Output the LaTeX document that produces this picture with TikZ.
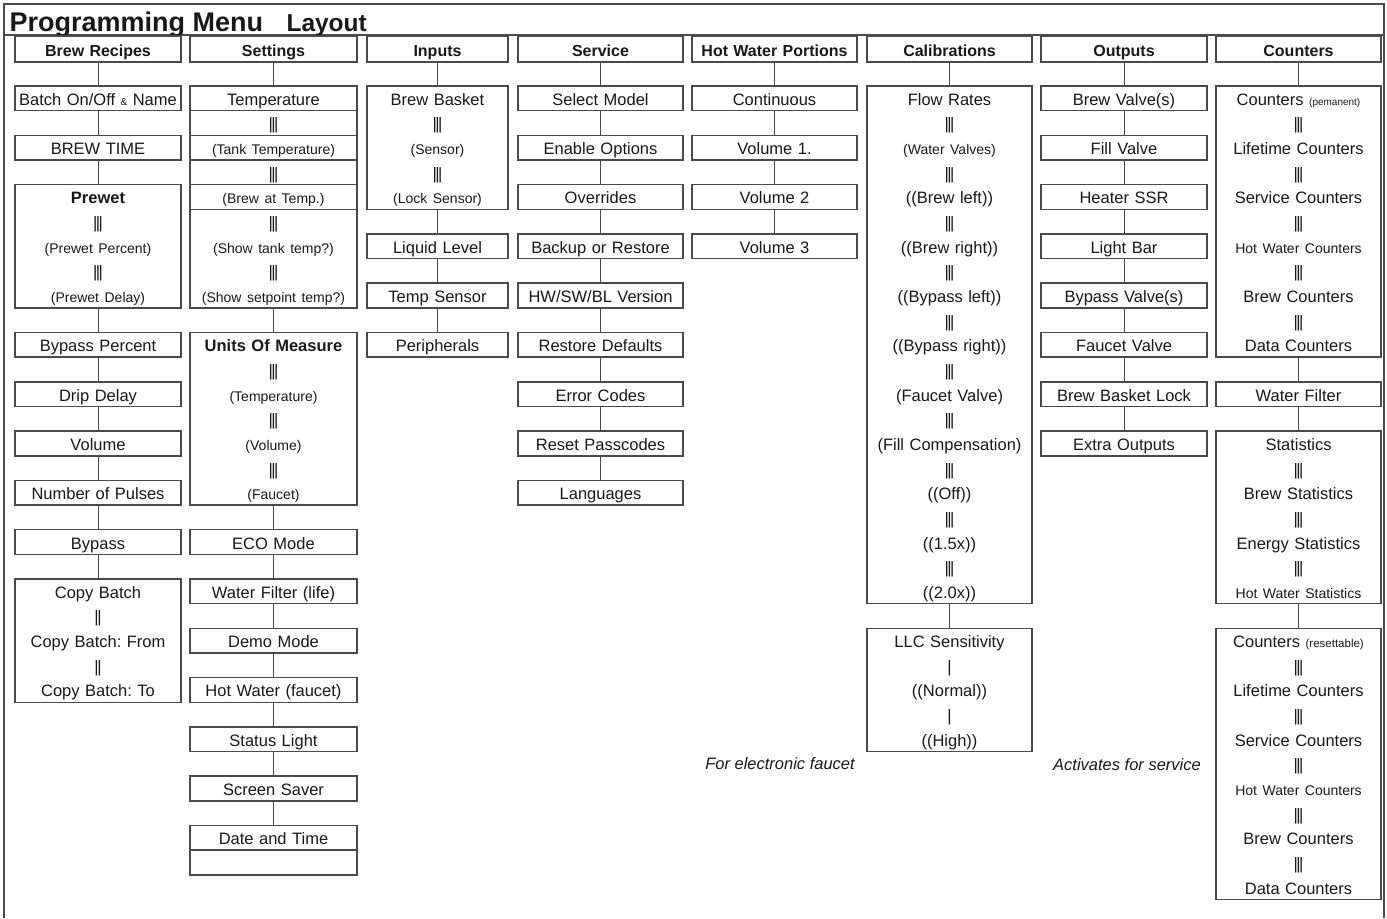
\documentclass[tikz,border=0pt]{standalone}
\usepackage{fontspec}
\setmainfont{Liberation Sans}
\frenchspacing
\newcommand\vbars{|\kern-1.5pt|\kern-1.5pt|}
\newcommand\vvbars{|\kern-1.5pt|}
\newcommand\smalltxt[1]{{\fontsize{14}{24.65}\selectfont #1}}
\newcommand\tinytxt[2]{{\fontsize{#1}{24.65}\selectfont #2}}
\begin{document}
\begin{tikzpicture}[x=1pt,y=-1pt,font=\fontsize{16.5}{24.65}\selectfont,
  frame/.style={draw=mgray,line width=1.5pt},
  item/.style={frame,inner sep=0pt,outer sep=0pt,align=center,text=mtext,
    minimum height=#1*\rowh,text height=16.5pt},
  head/.style={item=1,minimum height=26pt,text depth=2.5pt,
    font=\bfseries\fontsize{16}{24.65}\selectfont},
  link/.style={draw=mgray,line width=1pt},
  note/.style={text=mtext,font=\itshape\fontsize{16.5}{20}\selectfont}]
  \definecolor{mgray}{HTML}{4A4A4A}
  \definecolor{mtext}{HTML}{181818}
  \def\rowh{24.65}
  % frame and title band
  \draw[frame] (4,918) -- (4,4) -- (1384,4) -- (1384,918);
  \draw[frame] (4,35) -- (1384,35);
  \node[anchor=base west,text=mtext,font=\bfseries\fontsize{27}{30}\selectfont]
    (title) at (6,31) {Programming Menu};
  \node[anchor=base west,text=mtext,font=\bfseries\fontsize{24.5}{28}\selectfont]
    (layout) at (283,31) {Layout};
  \foreach \c/\x/\w/\head/\items in {
    recipes/98/166/{Brew Recipes}/{
      0/1/{Batch On/Off \tinytxt{10}{\&} Name},
      2/1/{BREW TIME},
      4/5/{\textbf{Prewet}\\\vbars\\\smalltxt{(Prewet Percent)}\\\vbars\\\smalltxt{(Prewet Delay)}},
      10/1/{Bypass Percent},
      12/1/{Drip Delay},
      14/1/{Volume},
      16/1/{Number of Pulses},
      18/1/{Bypass},
      20/5/{Copy Batch\\\vvbars\\Copy Batch: From\\\vvbars\\Copy Batch: To}},
    settings/273.5/167/{Settings}/{
      0/9/{Temperature\\\vbars\\\smalltxt{(Tank Temperature)}\\\vbars\\\smalltxt{(Brew at Temp.)}\\\vbars\\\smalltxt{(Show tank temp?)}\\\vbars\\\smalltxt{(Show setpoint temp?)}},
      10/7/{\textbf{Units Of Measure}\\\vbars\\\smalltxt{(Temperature)}\\\vbars\\\smalltxt{(Volume)}\\\vbars\\\smalltxt{(Faucet)}},
      18/1/{ECO Mode},
      20/1/{Water Filter (life)},
      22/1/{Demo Mode},
      24/1/{Hot Water (faucet)},
      26/1/{Status Light},
      28/1/{Screen Saver},
      30/2/{Date and Time\\\mbox{}}},
    inputs/437.5/141/{Inputs}/{
      0/5/{Brew Basket\\\vbars\\\smalltxt{(Sensor)}\\\vbars\\\smalltxt{(Lock Sensor)}},
      6/1/{Liquid Level},
      8/1/{Temp Sensor},
      10/1/{Peripherals}},
    service/600.5/165/{Service}/{
      0/1/{Select Model},
      2/1/{Enable Options},
      4/1/{Overrides},
      6/1/{Backup or Restore},
      8/1/{HW/SW/BL Version},
      10/1/{Restore Defaults},
      12/1/{Error Codes},
      14/1/{Reset Passcodes},
      16/1/{Languages}},
    portions/774.5/165/{Hot Water Portions}/{
      0/1/{Continuous},
      2/1/{Volume 1.},
      4/1/{Volume 2},
      6/1/{Volume 3}},
    calib/949.5/165/{Calibrations}/{
      0/21/{Flow Rates\\\vbars\\\smalltxt{(Water Valves)}\\\vbars\\((Brew left))\\\vbars\\((Brew right))\\\vbars\\((Bypass left))\\\vbars\\((Bypass right))\\\vbars\\(Faucet Valve)\\\vbars\\(Fill Compensation)\\\vbars\\((Off))\\\vbars\\((1.5x))\\\vbars\\((2.0x))},
      22/5/{LLC Sensitivity\\|\\((Normal))\\|\\((High))}},
    outputs/1124/166/{Outputs}/{
      0/1/{Brew Valve(s)},
      2/1/{Fill Valve},
      4/1/{Heater SSR},
      6/1/{Light Bar},
      8/1/{Bypass Valve(s)},
      10/1/{Faucet Valve},
      12/1/{Brew Basket Lock},
      14/1/{Extra Outputs}},
    counters/1298.5/165/{Counters}/{
      0/11/{Counters \tinytxt{10}{(pemanent)}\\\vbars\\Lifetime Counters\\\vbars\\Service Counters\\\vbars\\\smalltxt{Hot Water Counters}\\\vbars\\Brew Counters\\\vbars\\Data Counters},
      12/1/{Water Filter},
      14/7/{Statistics\\\vbars\\Brew Statistics\\\vbars\\Energy Statistics\\\vbars\\\smalltxt{Hot Water Statistics}},
      22/11/{Counters \tinytxt{11.5}{(resettable)}\\\vbars\\Lifetime Counters\\\vbars\\Service Counters\\\vbars\\\smalltxt{Hot Water Counters}\\\vbars\\Brew Counters\\\vbars\\Data Counters}}}{
    \node[head,text width=\w] (\c-h) at (\x,49) {\head};
    \foreach \r/\n/\t [remember=\r as \p (initially h)] in \items {
      \pgfmathsetmacro\dd{(\n-1)*\rowh+2.5}
      \node[item=\n,text width=\w,text depth=\dd pt] (\c-\r) at (\x,{86+(\r+\n/2)*\rowh}) {\t};
      \draw[link] (\c-\p.south) -- (\c-\r.north);
    }
  }
  % split rows inside the temperature and date boxes
  \foreach \k in {1,...,5}
    \draw[frame] (190,{86+\k*\rowh}) -- (357,{86+\k*\rowh});
  \draw[frame] (190,{86+31*\rowh}) -- (357,{86+31*\rowh});
  \node[note] (faucetnote) at (780,764) {For electronic faucet};
  \node[note] (servicenote) at (1127,765) {Activates for service};
  \path[use as bounding box] (0,0) rectangle (1387,915);
\end{tikzpicture}
\end{document}
